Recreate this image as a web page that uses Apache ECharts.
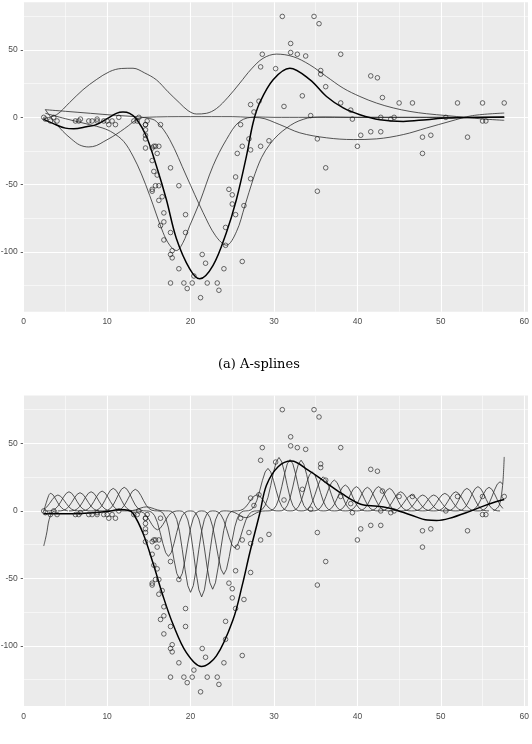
<!DOCTYPE html>
<html>
<head>
<meta charset="utf-8">
<script src="https://cdn.jsdelivr.net/npm/echarts@6/dist/echarts.min.js"></script>
<style>
html,body{margin:0;padding:0;background:#fff;overflow:hidden;}
#chart{width:532px;height:744px;}
</style>
</head>
<body>
<div id="chart"></div>
<script>
// ---- observations (mcycle data) ----
const times = [2.4,2.6,3.2,3.6,4.0,6.2,6.6,6.8,7.8,8.2,8.8,8.8,9.6,10.0,10.2,10.6,11.0,11.4,13.2,13.6,13.8,14.6,14.6,14.6,14.6,14.6,14.6,14.8,15.4,15.4,15.4,15.4,15.6,15.6,15.8,15.8,16.0,16.0,16.2,16.2,16.2,16.4,16.4,16.6,16.8,16.8,16.8,17.6,17.6,17.6,17.6,17.8,17.8,18.6,18.6,19.2,19.4,19.4,19.6,20.2,20.4,21.2,21.4,21.8,22.0,23.2,23.4,24.0,24.2,24.2,24.6,25.0,25.0,25.4,25.4,25.6,26.0,26.2,26.2,26.4,27.0,27.2,27.2,27.2,27.6,28.2,28.4,28.4,28.6,29.4,30.2,31.0,31.2,32.0,32.0,32.8,33.4,33.8,34.4,34.8,35.2,35.2,35.4,35.6,35.6,36.2,36.2,38.0,38.0,39.2,39.4,40.0,40.4,41.6,41.6,42.4,42.8,42.8,43.0,44.0,44.4,45.0,46.6,47.8,47.8,48.8,50.6,52.0,53.2,55.0,55.0,55.4,57.6];
const accel = [0.0,-1.3,-2.7,0.0,-2.7,-2.7,-2.7,-1.3,-2.7,-2.7,-1.3,-2.7,-2.7,-2.7,-5.4,-2.7,-5.4,0.0,-2.7,-2.7,0.0,-13.3,-5.4,-5.4,-9.3,-16.0,-22.8,-2.7,-22.8,-32.1,-53.5,-54.9,-40.2,-21.5,-21.5,-50.8,-42.9,-26.8,-21.5,-50.8,-61.7,-5.4,-80.4,-59.0,-71.0,-91.1,-77.7,-37.5,-85.6,-123.1,-101.9,-99.1,-104.4,-112.5,-50.8,-123.1,-85.6,-72.3,-127.2,-123.1,-117.9,-134.0,-101.9,-108.4,-123.1,-123.1,-128.5,-112.5,-95.1,-81.8,-53.5,-64.4,-57.6,-72.3,-44.3,-26.8,-5.4,-107.1,-21.5,-65.6,-16.0,-45.6,-24.2,9.5,4.0,12.0,-21.5,37.5,46.9,-17.4,36.2,75.0,8.1,54.9,48.2,46.9,16.0,45.6,1.3,75.0,-16.0,-54.9,69.6,34.8,32.1,-37.5,22.8,46.9,10.7,5.4,-1.3,-21.5,-13.3,30.8,-10.7,29.4,0.0,-10.7,14.7,-1.3,0.0,10.7,10.7,-26.8,-14.7,-13.3,0.0,10.7,-14.7,-2.7,10.7,-2.7,10.7];

// ---- axis ticks ----
const xTicks = [0,10,20,30,40,50,60];
const xMinor = [5,15,25,35,45,55];
const yTicks = [-100,-50,0,50];
const yMinor = [-125,-75,-25,25,75];

// ---- panel (a): A-spline fit and its components ----
const aFit = [[2.4,-1.5],[3.5,-4.5],[5,-8],[6,-8.4],[7.5,-7],[8.7,-5.4],[10,-1],[11.1,3],[11.9,4],[12.7,3],[13.5,-1],[14.7,-14],[15.9,-36],[17.1,-61],[18.3,-90],[19.9,-112.6],[21.1,-120],[22.7,-110],[24.3,-85.5],[25.5,-61],[26.7,-28.8],[27.5,-4],[28.3,11],[29.9,28],[31.9,36.5],[34.3,28],[36.3,15.5],[38.3,7],[40.3,2],[42.7,-1.7],[45.5,-3],[48.3,-1.7],[50.7,-0.5],[57.6,0.3]];
const aComp1 = [[2.4,-1],[3.95,2],[5.5,11],[7.1,20.5],[8.7,28],[10.3,34],[11.7,36.3],[13.1,36.5],[14.5,33],[15.9,27.9],[17.3,19],[18.7,10.6],[19.7,5],[20.7,2.5],[21.9,3],[23.1,6.5],[24.5,15],[25.9,25.4],[27.3,36],[28.7,43.9],[30.3,47],[32.3,45.1],[34.3,39],[36.3,30.3],[38.3,21.7],[40.3,15.5],[42.3,10.6],[44.3,7],[46.3,4.4],[48.3,2.7],[50.7,1.3],[53,0],[55,-1.2],[57.6,-2.2]];
const aComp2 = [[2.6,3],[5,-1],[7.9,-5.4],[9.5,-8],[10.7,-11.5],[12,-18],[13.1,-28.8],[14.1,-42],[15.1,-58],[16.7,-85.5],[17.5,-95],[18.3,-99],[19.1,-93],[19.9,-80.6],[21.1,-63],[22.7,-36],[24.3,-16.5],[25.9,-3],[27.9,0.3],[30,0],[57.6,0]];
const aComp3 = [[2.55,5.7],[5,4.5],[8,3],[11,1.5],[13.5,0.5],[14.8,-0.5],[15.9,-3],[17.5,-16.5],[19.5,-43.6],[21.5,-70.7],[23,-88],[24.3,-95],[25.5,-85],[26.5,-66],[27.5,-46],[28.5,-30],[29.5,-20],[30.5,-13],[31.5,-8],[32.5,-4],[33.5,-1.5],[34.5,0],[36,0.3],[40,0],[57.6,0]];
const aComp4 = [[2.6,5.7],[3.5,-2],[4.7,-10.4],[5.7,-16],[6.7,-20.5],[7.8,-22],[8.7,-21],[9.6,-18],[10.6,-14.5],[11.6,-10.5],[12.6,-6],[13.5,-1.7],[14.5,0],[20,0.5],[25,0.5],[27,0],[28.3,-0.3],[30.7,-5.4],[33.1,-11.5],[36.3,-15.2],[39.5,-16.5],[42.3,-16],[45.5,-12.8],[48.3,-7.9],[51.1,-3],[53.8,1.3],[57.6,3.2]];

// ---- panel (b): B-spline fit and scaled basis functions ----
const bFit = [[2.4,-2],[4,-2],[6,-2],[8,-1.5],[10,-0.5],[11.5,1],[12.5,0.5],[13.1,-1.7],[14.3,-16.5],[15.5,-38.6],[16.7,-63],[17.9,-84],[19.5,-105],[21.3,-115.3],[23.1,-107.4],[25.1,-80.4],[26.2,-55],[27.1,-31],[28.3,-1.7],[29.1,19],[30.5,32.7],[32.1,36.9],[34.1,30.2],[36.1,21.6],[38.1,13],[40.4,5],[42.4,3.5],[44.2,1.5],[46.4,-3],[48.4,-6.8],[49.5,-7.1],[51,-5.5],[53.4,-0.5],[55.7,5],[57.6,8.5]];
const bumpCenters = [4.10,5.43,6.75,8.08,9.40,10.73,12.05,13.38,14.70,16.03,17.35,18.68,20.00,21.33,22.65,23.98,25.30,26.63,27.95,29.28,30.60,31.93,33.25,34.58,35.90,37.23,38.55,39.88,41.20,42.53,43.85,45.18,46.50,47.83,49.15,50.48,51.80,53.13,54.45,55.78,57.10];
const bumpPeaks = [11.8,14.2,13.5,14.2,14.7,16.7,17.5,16,3,-14,-33.7,-50.4,-60.3,-63.7,-58,-47,-27.5,-5,12,31.5,39.6,38,37.6,29,25.3,22.9,19.2,18,17.5,18,16.7,14.2,11.8,11.8,11.8,13,14.2,16.7,18,17.5,21.6];
const bumpHalfWidth = 2.65;
const bumpShape = [0,0.004,0.031,0.105,0.25,0.473,0.719,0.918,1,0.918,0.719,0.473,0.25,0.105,0.031,0.004,0];
const bEdgeLeft = [[2.4,-26],[2.6,-21],[2.8,-15],[2.95,-9],[3.2,-3.5],[3.5,-0.5],[4,0]];
const bEdgeBump = [[2.4,0],[2.7,6],[3.0,11.5],[3.2,13],[3.5,12],[3.9,8],[4.3,4],[4.8,1],[5.3,0]];
const bEdgeRight = [[56.3,0],[56.9,3],[57.2,9],[57.45,22],[57.6,40]];

// ---- build options ----
const X0 = 2.4, X1 = 57.6, XMAX = 60.45, YMIN = -144.5, YMAX = 85.5;
function bumpData(c, p) {
  const out = [];
  const n = bumpShape.length;
  for (let i = 0; i < n; i++) {
    const x = c + (i - (n - 1) / 2) / ((n - 1) / 2) * bumpHalfWidth;
    if (x < X0 - 1e-9 || x > X1 + 1e-9) continue;
    out.push([x, p * bumpShape[i]]);
  }
  return out;
}
function lineSeries(data, g, width, color, smooth, z) {
  return {type: 'line', xAxisIndex: g, yAxisIndex: g, data: data, showSymbol: false, symbol: 'none',
    smooth: smooth, lineStyle: {color: color, width: width}, silent: true, animation: false, z: z};
}
function gridSeries(g) {
  const ml = [];
  xMinor.forEach(v => ml.push({xAxis: v, lineStyle: {color: '#fff', width: 0.55, type: 'solid'}}));
  yMinor.forEach(v => ml.push({yAxis: v, lineStyle: {color: '#fff', width: 0.55, type: 'solid'}}));
  xTicks.forEach(v => ml.push({xAxis: v, lineStyle: {color: '#fff', width: 1.1, type: 'solid'}}));
  yTicks.forEach(v => ml.push({yAxis: v, lineStyle: {color: '#fff', width: 1.1, type: 'solid'}}));
  return {type: 'line', xAxisIndex: g, yAxisIndex: g, data: [[0, 0]], showSymbol: false, symbol: 'none',
    lineStyle: {opacity: 0}, silent: true, animation: false, z: 1,
    markLine: {silent: true, symbol: 'none', label: {show: false}, animation: false, z: 1, data: ml}};
}
function scatterSeries(g) {
  return {type: 'scatter', xAxisIndex: g, yAxisIndex: g, data: times.map((t, i) => [t, accel[i]]),
    symbol: 'circle', symbolSize: 4.6, silent: true, animation: false, z: 4,
    itemStyle: {color: 'rgba(0,0,0,0)', borderColor: '#1a1a1a', borderWidth: 0.8}};
}
const fontCommon = {color: '#4D4D4D', fontSize: 8.5, fontFamily: 'Liberation Sans, Arial, sans-serif'};
// x tick labels: text placed at the tick values on the axis baseline
function xLabelSeries(g) {
  return {type: 'scatter', xAxisIndex: g, yAxisIndex: g, data: xTicks.map(v => [v, YMIN]),
    symbol: 'circle', symbolSize: 0.5, itemStyle: {color: 'rgba(0,0,0,0)', borderWidth: 0},
    silent: true, animation: false, clip: false, z: 5,
    labelLayout: {hideOverlap: false},
    label: Object.assign({show: true, opacity: 1, position: 'bottom', distance: 5.5,
      formatter: p => String(p.value[0])}, fontCommon)};
}
function xAxisDef(g) {
  return {type: 'value', gridIndex: g, min: 0, max: XMAX,
    axisLine: {show: false},
    axisTick: {show: true, length: 3, customValues: xTicks, lineStyle: {color: '#333', width: 0.8}},
    axisLabel: {show: false},
    splitLine: {show: false}};
}
function yAxisDef(g) {
  return {type: 'value', gridIndex: g, min: YMIN, max: YMAX,
    axisLine: {show: false},
    axisTick: {show: true, length: 3, customValues: yTicks, lineStyle: {color: '#333', width: 0.8}},
    axisLabel: Object.assign({customValues: yTicks, margin: 6, showMinLabel: true, showMaxLabel: true}, fontCommon),
    splitLine: {show: false}};
}

const thin = '#2b2b2b', thinW = 0.8, thick = '#000000', thickW = 1.5;
const series = [gridSeries(0), gridSeries(1)];
[aComp1, aComp2, aComp3, aComp4].forEach(d => series.push(lineSeries(d, 0, thinW, thin, 0.35, 2)));
series.push(lineSeries(aFit, 0, thickW, thick, 0.35, 3));
bumpCenters.forEach((c, i) => series.push(lineSeries(bumpData(c, bumpPeaks[i]), 1, thinW, thin, false, 2)));
[bEdgeLeft, bEdgeBump, bEdgeRight].forEach(d => series.push(lineSeries(d, 1, thinW, thin, 0.3, 2)));
series.push(lineSeries(bFit, 1, thickW, thick, 0.35, 3));
series.push(scatterSeries(0));
series.push(scatterSeries(1));
series.push(xLabelSeries(0));
series.push(xLabelSeries(1));

const chart = echarts.init(document.getElementById('chart'), null, {renderer: 'canvas'});
chart.setOption({
  animation: false,
  backgroundColor: '#ffffff',
  title: {text: '(a) A-splines', left: 213, top: 353,
    textStyle: {fontFamily: 'DejaVu Serif, serif', fontSize: 13, fontWeight: 'normal', color: '#000'}},
  grid: [
    {left: 23.7, top: 2.3, width: 504.3, height: 309.5, show: true, backgroundColor: '#EBEBEB', borderWidth: 0,
     containLabel: false, outerBoundsMode: 'none'},
    {left: 23.7, top: 395.5, width: 504.3, height: 310.5, show: true, backgroundColor: '#EBEBEB', borderWidth: 0,
     containLabel: false, outerBoundsMode: 'none'}
  ],
  xAxis: [xAxisDef(0), xAxisDef(1)],
  yAxis: [yAxisDef(0), yAxisDef(1)],
  series: series
});
</script>
</body>
</html>
